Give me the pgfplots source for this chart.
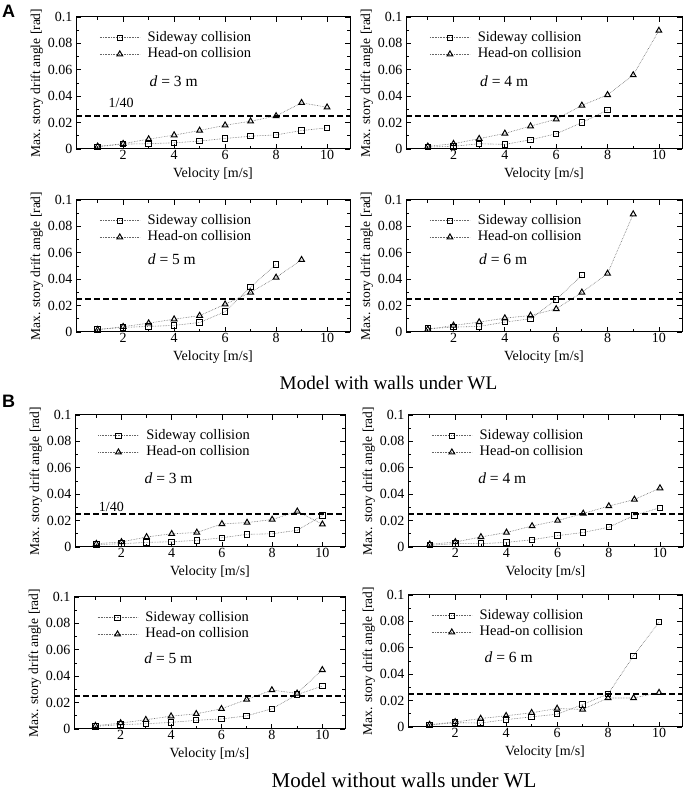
\documentclass[border=0pt]{standalone}
\usepackage{fontspec}
\setmainfont{Liberation Serif}
\newfontfamily\labelsans{Liberation Sans}
\usepackage{pgfplots}
\pgfplotsset{compat=1.18}
\pgfplotsset{
 panel/.style={
  scale only axis, height=132pt,
  xmin=0.15, xmax=10.9, ymin=0, ymax=0.1,
  xtick={2,4,...,10}, minor xtick={1,3,5,7,9},
  ytick={0,0.02,0.04,0.06,0.08,0.1}, minor ytick={0.01,0.03,0.05,0.07,0.09},
  scaled y ticks=false,
  yticklabel style={/pgf/number format/fixed, /pgf/number format/precision=2},
  /pgf/number format/assume math mode=true,
  tick label style={font=\fontsize{14}{15}\selectfont},
  xticklabel style={yshift=2pt},
  xlabel={Velocity [m/s]}, ylabel={Max. story drift angle [rad]},
  xlabel style={font=\fontsize{14}{15}\selectfont, yshift=-1pt},
  ylabel style={font=\fontsize{13.5}{14}\selectfont, yshift=-2pt},
  axis line style={line width=1pt},
  major tick length=5pt, minor tick length=3pt,
  every tick/.style={black, line width=0.8pt},
  tick align=inside,
  legend cell align=left,
  legend style={at={(rel axis cs:0.085,0.905)}, anchor=north west, draw=none, fill=none,
    inner sep=0pt, font=\fontsize{14.5}{15}\selectfont, row sep=0.5pt,
    nodes={inner sep=1.5pt, text height=10pt, text depth=3pt},
    /tikz/every odd column/.append style={column sep=6pt}},
  legend image code/.code={\draw[mark repeat=2,mark phase=2,##1] plot coordinates {(0pt,0pt) (20pt,0pt) (40pt,0pt)};},
 },
 sw/.style={gray!80!black, densely dotted, line width=0.6pt, mark=square, mark size=2.7pt, mark options={black, solid, line width=1pt}},
 ho/.style={gray!80!black, densely dotted, line width=0.6pt, mark=triangle, mark size=3.3pt, mark options={black, solid, line width=1pt}},
 lim/.style={black, line width=1.3pt, dash pattern=on 6pt off 3pt, forget plot},
}
\newcommand{\dlab}[3]{\node[anchor=west, font=\fontsize{15.5}{16}\selectfont] at (axis cs:#1,#2) {\textit{d} = #3 m};}
\begin{document}
\begin{tikzpicture}
\useasboundingbox (0pt,0pt) rectangle (685pt,792pt);
\node[font=\labelsans\bfseries\fontsize{18}{18}\selectfont] at (8.5pt,780.5pt) {A};
\node[font=\labelsans\bfseries\fontsize{18}{18}\selectfont] at (8.5pt,391pt) {B};

% A1
\begin{axis}[panel, width=274pt, at={(76pt,643pt)}, anchor=south west]
\addplot[sw] coordinates {(1,0.0017) (2,0.0037) (3,0.004) (4,0.0047) (5,0.006) (6,0.008) (7,0.0097) (8,0.0107) (9,0.014) (10,0.016)};
\addplot[ho] coordinates {(1,0.002) (2,0.004) (3,0.0075) (4,0.0105) (5,0.014) (6,0.018) (7,0.021) (8,0.025) (9,0.035) (10,0.0316)};
\addplot[lim] coordinates {(0.15,0.025) (10.9,0.025)};
\legend{Sideway collision, Head-on collision}
\dlab{2.9}{0.0515}{3}
\node[font=\fontsize{14}{15}\selectfont] at (axis cs:1.92,0.035) {1/40};
\end{axis}

% A2
\begin{axis}[panel, width=276pt, at={(406pt,643pt)}, anchor=south west]
\addplot[sw] coordinates {(1,0.0015) (2,0.002) (3,0.004) (4,0.0035) (5,0.007) (6,0.0115) (7,0.020) (8,0.0296)};
\addplot[ho] coordinates {(1,0.002) (2,0.004) (3,0.0078) (4,0.0118) (5,0.0173) (6,0.0226) (7,0.033) (8,0.041) (9,0.056) (10,0.0897)};
\addplot[lim] coordinates {(0.15,0.025) (10.9,0.025)};
\legend{Sideway collision, Head-on collision}
\dlab{2.9}{0.0515}{4}
\end{axis}

% A3
\begin{axis}[panel, width=274pt, at={(76pt,460pt)}, anchor=south west]
\addplot[sw] coordinates {(1,0.002) (2,0.0035) (3,0.0042) (4,0.005) (5,0.0072) (6,0.0154) (7,0.034) (8,0.0512)};
\addplot[ho] coordinates {(1,0.0017) (2,0.004) (3,0.0067) (4,0.0097) (5,0.0124) (6,0.021) (7,0.030) (8,0.0413) (9,0.0547)};
\addplot[lim] coordinates {(0.15,0.025) (10.9,0.025)};
\legend{Sideway collision, Head-on collision}
\dlab{2.83}{0.055}{5}
\end{axis}

% A4
\begin{axis}[panel, width=276pt, at={(406pt,460pt)}, anchor=south west]
\addplot[sw] coordinates {(1,0.0025) (2,0.0037) (3,0.0042) (4,0.0075) (5,0.010) (6,0.0245) (7,0.043)};
\addplot[ho] coordinates {(1,0.002) (2,0.005) (3,0.0075) (4,0.0105) (5,0.0125) (6,0.0175) (7,0.030) (8,0.0443) (9,0.0893)};
\addplot[lim] coordinates {(0.15,0.025) (10.9,0.025)};
\legend{Sideway collision, Head-on collision}
\dlab{2.86}{0.055}{6}
\end{axis}

\node[font=\fontsize{19.2}{20}\selectfont] at (388.5pt,409pt) {Model with walls under WL};

% B1
\begin{axis}[panel, width=270pt, at={(75pt,245pt)}, anchor=south west]
\addplot[sw] coordinates {(1,0.0018) (2,0.0025) (3,0.0035) (4,0.004) (5,0.005) (6,0.007) (7,0.0096) (8,0.010) (9,0.0127) (10,0.0238)};
\addplot[ho] coordinates {(1,0.0025) (2,0.0038) (3,0.0076) (4,0.010) (5,0.011) (6,0.0175) (7,0.0185) (8,0.0208) (9,0.027) (10,0.0172)};
\addplot[lim] coordinates {(0.15,0.025) (10.9,0.025)};
\legend{Sideway collision, Head-on collision}
\dlab{2.78}{0.052}{3}
\node[font=\fontsize{14}{15}\selectfont] at (axis cs:1.6,0.0305) {1/40};
\end{axis}

% B2
\begin{axis}[panel, width=275pt, at={(408pt,245pt)}, anchor=south west]
\addplot[sw] coordinates {(1,0.0013) (2,0.0025) (3,0.0025) (4,0.0035) (5,0.0055) (6,0.0086) (7,0.011) (8,0.015) (9,0.024) (10,0.0297)};
\addplot[ho] coordinates {(1,0.002) (2,0.0038) (3,0.0076) (4,0.011) (5,0.0159) (6,0.020) (7,0.0254) (8,0.031) (9,0.036) (10,0.0446)};
\addplot[lim] coordinates {(0.15,0.025) (10.9,0.025)};
\legend{Sideway collision, Head-on collision}
\dlab{2.76}{0.052}{4}
\end{axis}

% B3
\begin{axis}[panel, width=271pt, at={(74pt,63pt)}, anchor=south west]
\addplot[sw] coordinates {(1,0.002) (2,0.0033) (3,0.004) (4,0.005) (5,0.0066) (6,0.0076) (7,0.010) (8,0.0153) (9,0.026) (10,0.0326)};
\addplot[ho] coordinates {(1,0.0025) (2,0.0045) (3,0.007) (4,0.0097) (5,0.0115) (6,0.0153) (7,0.0224) (8,0.0295) (9,0.027) (10,0.0448)};
\addplot[lim] coordinates {(0.15,0.025) (10.9,0.025)};
\legend{Sideway collision, Head-on collision}
\dlab{2.8}{0.054}{5}
\end{axis}

% B4
\begin{axis}[panel, width=274pt, at={(408pt,65pt)}, anchor=south west]
\addplot[sw] coordinates {(1,0.0015) (2,0.0033) (3,0.003) (4,0.0056) (5,0.0077) (6,0.0097) (7,0.017) (8,0.025) (9,0.054) (10,0.0795)};
\addplot[ho] coordinates {(1,0.0018) (2,0.0038) (3,0.0064) (4,0.0085) (5,0.0108) (6,0.014) (7,0.0133) (8,0.022) (9,0.022) (10,0.026)};
\addplot[lim] coordinates {(0.15,0.025) (10.9,0.025)};
\legend{Sideway collision, Head-on collision}
\dlab{3.02}{0.0527}{6}
\end{axis}

\node[font=\fontsize{21}{22}\selectfont] at (404pt,12pt) {Model without walls under WL};
\end{tikzpicture}
\end{document}
